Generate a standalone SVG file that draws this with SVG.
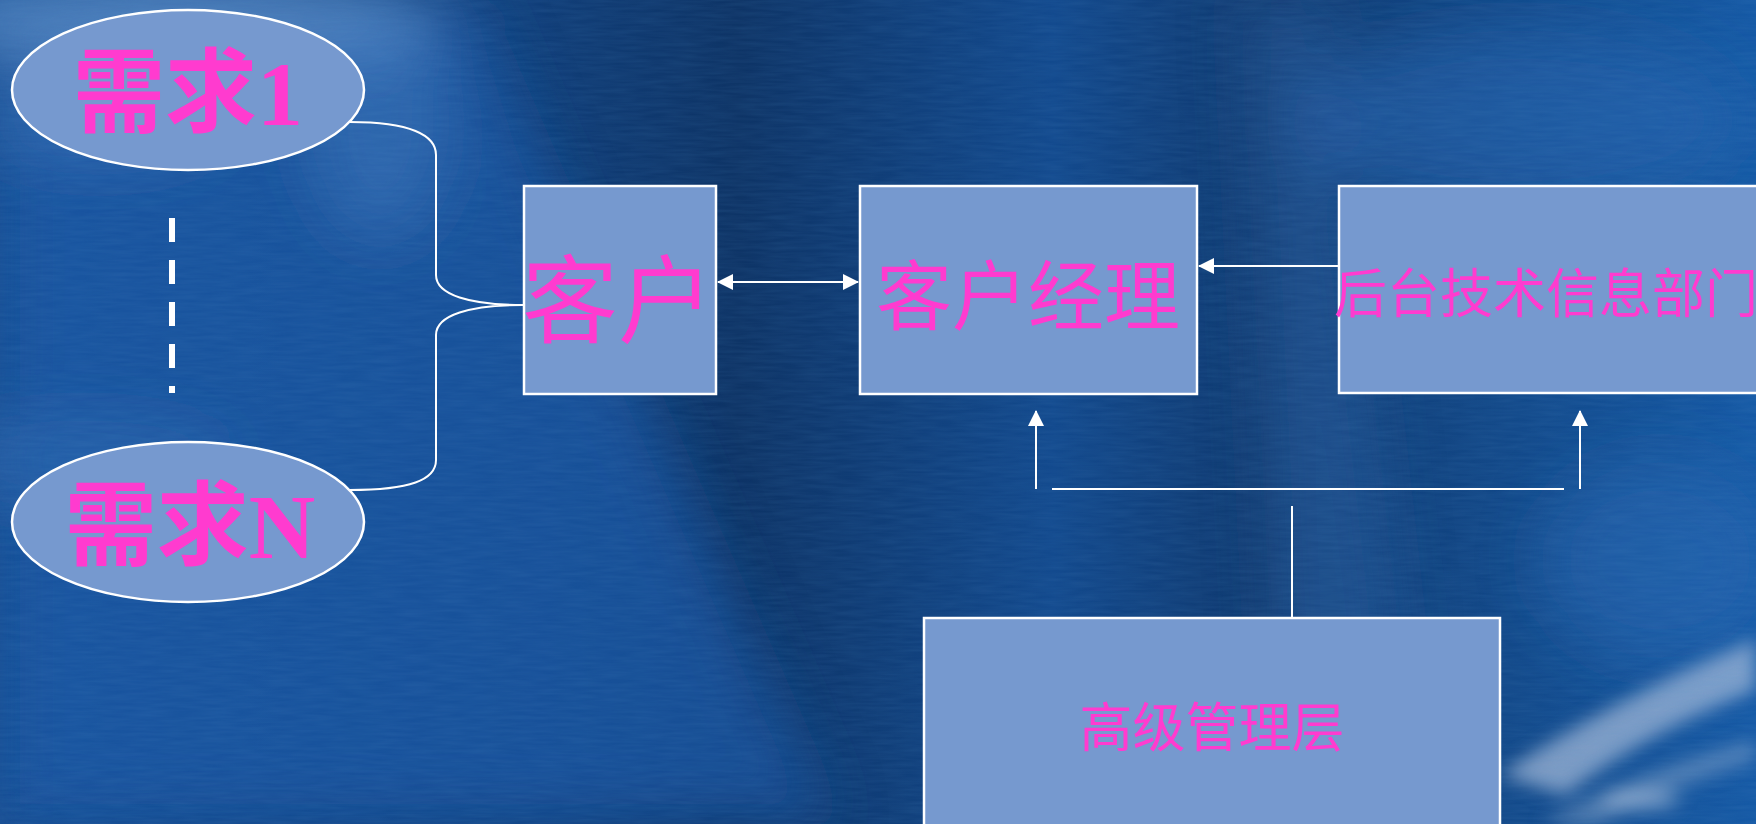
<svg xmlns="http://www.w3.org/2000/svg" width="1756" height="824" viewBox="0 0 1756 824">
<defs>
<linearGradient id="bg" x1="0" y1="0" x2="1" y2="0">
<stop offset="0" stop-color="#164c8f"/>
<stop offset="0.3" stop-color="#113f7a"/>
<stop offset="0.42" stop-color="#0e3466"/>
<stop offset="0.6" stop-color="#134a8e"/>
<stop offset="0.72" stop-color="#10396e"/>
<stop offset="1" stop-color="#165aa6"/>
</linearGradient>
<filter id="blur" x="-50%" y="-50%" width="200%" height="200%"><feGaussianBlur stdDeviation="30"/></filter>
<filter id="blur2" x="-50%" y="-50%" width="200%" height="200%"><feGaussianBlur stdDeviation="9"/></filter>
<filter id="tex" x="0" y="0" width="100%" height="100%">
<feTurbulence type="fractalNoise" baseFrequency="0.03 0.3" numOctaves="2" seed="3"/>
<feColorMatrix type="matrix" values="0 0 0 0 0.1  0 0 0 0 0.3  0 0 0 0 0.6  0 0 0 0.5 -0.1"/>
</filter>
<marker id="ah" markerUnits="userSpaceOnUse" markerWidth="16" markerHeight="16" viewBox="0 0 16 16" refX="15" refY="8" orient="auto-start-reverse">
<path d="M0,0 L16,8 L0,16 z" fill="#ffffff"/>
</marker>
<style>
.box{fill:#7699cf;stroke:#ffffff;stroke-width:2.5}
.lbl{fill:#ff3bcf;font-family:"Liberation Serif","Noto Sans CJK SC",serif;text-anchor:middle}
.big{font-weight:bold;font-size:92px}
.con{fill:none;stroke:#ffffff;stroke-width:2}
</style>
</defs>
<g id="background">
<rect width="1756" height="824" fill="url(#bg)"/>
<g filter="url(#blur)">
<path d="M0,60 L470,0 L830,824 L0,824 Z" fill="#1a59a8" opacity="0.7"/>
<ellipse cx="180" cy="20" rx="260" ry="45" fill="#6a9ad4" opacity="0.7"/>
<ellipse cx="380" cy="120" rx="70" ry="120" fill="#4a80c4" opacity="0.45"/>
<ellipse cx="100" cy="120" rx="120" ry="40" fill="#5a8ccc" opacity="0.35"/>
<path d="M1240,0 L1330,0 L1420,824 L1280,824 Z" fill="#2f66ad" opacity="0.4"/>
<ellipse cx="80" cy="460" rx="150" ry="40" fill="#3a72b8" opacity="0.45"/>
<ellipse cx="1520" cy="120" rx="220" ry="90" fill="#2b68b5" opacity="0.5"/>
<ellipse cx="1660" cy="560" rx="120" ry="100" fill="#2e6ab4" opacity="0.5"/>
</g>
<g filter="url(#blur2)">
<path d="M1500,775 Q1610,700 1756,640 L1756,690 Q1640,735 1565,795 Z" fill="#a9bedb" opacity="0.7"/>
<path d="M1540,824 Q1640,770 1756,740 L1756,760 Q1660,790 1600,824 Z" fill="#9fb5d4" opacity="0.45"/>
<ellipse cx="1445" cy="812" rx="30" ry="14" fill="#b8c9e0" opacity="0.6"/>
<ellipse cx="1640" cy="800" rx="40" ry="10" fill="#b8c9e0" opacity="0.55"/>
</g>
<rect width="1756" height="824" filter="url(#tex)" opacity="0.35"/>
</g>
<g id="connectors">
<path class="con" d="M350,122 C410,122 436,135 436,155 L436,275 C436,295 470,305 523,305 C470,305 436,315 436,335 L436,460 C436,480 410,490 350,490"/>
<line x1="172" y1="218" x2="172" y2="393" stroke="#ffffff" stroke-width="6" stroke-dasharray="24 18"/>
<line class="con" x1="718" y1="282" x2="858" y2="282" marker-start="url(#ah)" marker-end="url(#ah)"/>
<line class="con" x1="1339" y1="266" x2="1199" y2="266" marker-end="url(#ah)"/>
<line class="con" x1="1036" y1="489" x2="1036" y2="411" marker-end="url(#ah)"/>
<line class="con" x1="1580" y1="489" x2="1580" y2="411" marker-end="url(#ah)"/>
<line class="con" x1="1052" y1="489" x2="1564" y2="489"/>
<line class="con" x1="1292" y1="506" x2="1292" y2="617"/>
</g>
<g id="req1">
<ellipse class="box" cx="188" cy="90" rx="176" ry="80"/>
<text class="lbl big" x="188" y="125">需求1</text>
</g>
<g id="reqN">
<ellipse class="box" cx="188" cy="522" rx="176" ry="80"/>
<text class="lbl big" x="190" y="558">需求N</text>
</g>
<g id="customer">
<rect class="box" x="524" y="186" width="192" height="208"/>
<text class="lbl" x="618" y="335" font-size="96">客户</text>
</g>
<g id="manager">
<rect class="box" x="860" y="186" width="337" height="208"/>
<text class="lbl" x="1028" y="324" font-size="76">客户经理</text>
</g>
<g id="backend">
<rect class="box" x="1339" y="186" width="430" height="207"/>
<text class="lbl" x="1334" y="313" font-size="53" style="text-anchor:start">后台技术信息部门</text>
</g>
<g id="senior">
<rect class="box" x="924" y="618" width="576" height="220"/>
<text class="lbl" x="1212" y="747" font-size="53">高级管理层</text>
</g>
</svg>
